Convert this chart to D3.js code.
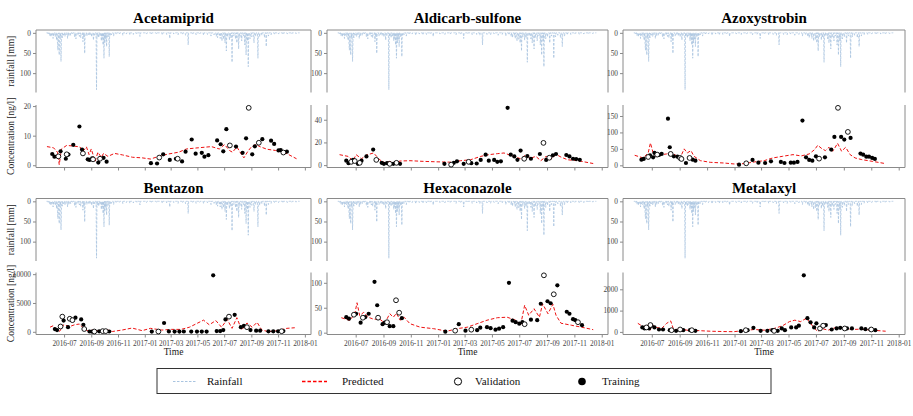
<!DOCTYPE html>
<html><head><meta charset="utf-8">
<script src="https://cdn.jsdelivr.net/npm/d3@7"></script>
<style>
body{margin:0;background:#fff}
svg{display:block}
text{font-family:"Liberation Serif","Times New Roman",serif}
</style>
</head><body>
<svg id="c" width="913" height="416"></svg>
<script>
const compounds = ["Acetamiprid","Aldicarb-sulfone","Azoxystrobin","Bentazon","Hexaconazole","Metalaxyl"];
const xTickLabels = ["2016-07","2016-09","2016-11","2017-01","2017-03","2017-05","2017-07","2017-09","2017-11","2018-01"];
const xDomainDates = ["2016-04-28","2018-01-15"];
const rainTicks = [0,50,100];
const concTicks = [[0,10,20],[0,20,40],[0,50,100,150],[0,5000,10000],[0,50,100],[0,1000,2000]];
const legendLabels = ["Rainfall","Predicted","Validation","Training"];
const rainPeriod = ["2016-05-22","2017-12-20"];
const rainEvents = [
["2016-05-26",4],["2016-05-29",7],["2016-06-01",10],["2016-06-03",5],["2016-06-06",14],["2016-06-08",6],["2016-06-11",9],["2016-06-14",18],["2016-06-16",26],["2016-06-17",43],["2016-06-19",30],["2016-06-20",55],["2016-06-22",12],["2016-06-24",71],["2016-06-25",20],["2016-06-27",12],["2016-06-30",6],["2016-07-03",9],["2016-07-06",5],["2016-07-09",14],["2016-07-12",8],["2016-07-16",6],["2016-07-20",4],["2016-07-25",10],["2016-07-28",15],["2016-08-02",6],["2016-08-05",9],["2016-08-08",12],["2016-08-13",22],["2016-08-15",10],["2016-08-17",51],["2016-08-22",8],["2016-08-26",5],["2016-08-29",7],["2016-09-02",10],["2016-09-06",18],["2016-09-09",6],["2016-09-13",141],["2016-09-15",9],["2016-09-18",12],["2016-09-21",8],["2016-09-24",20],["2016-09-26",14],["2016-09-28",30],["2016-09-30",63],["2016-10-02",25],["2016-10-04",15],["2016-10-06",34],["2016-10-09",10],["2016-10-12",59],["2016-10-14",6],["2016-10-17",5],["2016-10-22",8],["2016-10-28",4],["2016-11-04",3],["2016-11-12",6],["2016-11-20",3],["2016-11-28",5],["2016-12-06",4],["2016-12-14",3],["2016-12-21",9],["2017-01-05",3],["2017-01-16",4],["2017-01-28",3],["2017-02-10",5],["2017-02-20",4],["2017-02-27",14],["2017-03-08",3],["2017-03-18",5],["2017-03-28",4],["2017-04-04",6],["2017-04-10",30],["2017-04-20",4],["2017-04-28",5],["2017-05-06",3],["2017-05-15",6],["2017-05-24",4],["2017-06-01",8],["2017-06-08",5],["2017-06-13",9],["2017-06-16",12],["2017-06-20",6],["2017-06-22",14],["2017-06-26",20],["2017-06-30",16],["2017-07-03",25],["2017-07-06",45],["2017-07-09",10],["2017-07-13",18],["2017-07-16",12],["2017-07-19",73],["2017-07-23",8],["2017-07-27",15],["2017-07-30",25],["2017-08-03",40],["2017-08-06",12],["2017-08-10",20],["2017-08-14",8],["2017-08-17",30],["2017-08-20",55],["2017-08-23",20],["2017-08-25",84],["2017-08-29",15],["2017-09-02",10],["2017-09-07",25],["2017-09-11",8],["2017-09-16",63],["2017-09-20",10],["2017-09-25",6],["2017-10-01",12],["2017-10-05",34],["2017-10-10",8],["2017-10-16",5],["2017-10-24",4],["2017-11-02",3],["2017-11-12",4],["2017-11-22",3],["2017-12-02",3],["2017-12-12",2]
];

// Acetamiprid
const acetTrain = [["2016-06-04",3.8],["2016-06-09",2.9],["2016-06-23",4.7],["2016-07-05",2.2],["2016-07-11",3.6],["2016-07-22",6.9],["2016-08-05",13.1],["2016-08-11",5.3],["2016-08-24",2.0],["2016-08-28",1.8],["2016-09-03",2.3],["2016-09-17",0.9],["2016-09-29",2.5],["2016-10-06",1.2],["2017-01-15",0.7],["2017-01-29",0.6],["2017-02-12",3.7],["2017-02-27",1.8],["2017-03-13",2.2],["2017-03-27",1.3],["2017-04-04",4.6],["2017-04-18",8.7],["2017-04-27",3.9],["2017-05-11",4.2],["2017-05-17",2.9],["2017-05-26",3.4],["2017-06-15",8.4],["2017-06-23",7.1],["2017-06-29",4.7],["2017-07-06",12.2],["2017-07-28",6.3],["2017-08-12",4.2],["2017-08-20",9.1],["2017-09-03",3.7],["2017-09-09",6.4],["2017-09-26",8.8],["2017-10-16",8.3],["2017-10-23",7.2],["2017-11-02",5.0],["2017-11-07",5.1],["2017-11-21",4.6]];
const acetVal = [["2016-06-18",3.0],["2016-07-07",3.7],["2016-08-13",4.0],["2016-09-05",2.0],["2016-09-21",2.2],["2017-02-03",2.6],["2017-03-17",2.2],["2017-07-14",6.7],["2017-08-26",19.4],["2017-09-18",7.6],["2017-11-13",4.3]];
const acetPred = [["2016-05-23",6.3],["2016-06-07",5.9],["2016-06-16",4.4],["2016-06-20",0.2],["2016-06-25",5.5],["2016-07-07",6.7],["2016-07-22",6.5],["2016-08-06",6.2],["2016-08-13",4.7],["2016-08-21",6.2],["2016-08-27",3.6],["2016-09-01",5.5],["2016-09-10",1.3],["2016-09-16",4.4],["2016-09-24",2.7],["2016-09-29",4.0],["2016-10-09",3.0],["2016-10-24",4.0],["2016-11-11",3.5],["2016-12-04",2.7],["2016-12-26",2.5],["2017-01-14",2.1],["2017-02-02",3.0],["2017-02-24",3.8],["2017-03-19",4.4],["2017-04-06",5.5],["2017-05-03",5.9],["2017-06-02",6.3],["2017-06-20",5.5],["2017-07-02",7.0],["2017-07-13",5.0],["2017-07-20",4.4],["2017-07-30",6.2],["2017-08-08",4.0],["2017-08-15",2.5],["2017-08-24",4.7],["2017-09-01",6.2],["2017-09-11",7.0],["2017-09-22",6.2],["2017-10-07",5.4],["2017-10-26",5.0],["2017-11-10",4.7],["2017-11-25",3.6],["2017-12-13",2.2]];

// Aldicarb-sulfone
const aldiTrain = [["2016-06-10",3.9],["2016-06-15",1.7],["2016-06-25",4.6],["2016-07-06",1.1],["2016-07-14",3.9],["2016-07-25",7.7],["2016-08-09",13.7],["2016-08-28",2.0],["2016-09-02",1.1],["2016-09-09",1.7],["2016-09-23",1.1],["2016-10-08",1.1],["2017-01-15",1.1],["2017-02-05",2.0],["2017-02-12",3.3],["2017-02-27",1.1],["2017-03-16",1.7],["2017-03-28",1.4],["2017-04-06",4.6],["2017-04-17",9.2],["2017-04-24",3.9],["2017-05-06",4.6],["2017-05-13",2.9],["2017-05-21",3.3],["2017-06-05",50.5],["2017-06-12",9.2],["2017-06-20",7.7],["2017-06-27",4.7],["2017-07-04",12.8],["2017-07-19",8.0],["2017-07-27",5.6],["2017-08-16",9.8],["2017-08-30",4.6],["2017-09-14",8.6],["2017-09-21",9.8],["2017-10-14",8.9],["2017-10-21",7.7],["2017-10-29",5.6],["2017-11-05",5.3],["2017-11-13",4.7]];
const aldiVal = [["2016-06-21",2.9],["2016-06-29",3.6],["2016-07-10",2.0],["2016-08-16",4.6],["2016-09-15",1.1],["2016-09-30",2.0],["2017-01-30",0.4],["2017-03-10",2.9],["2017-07-12",5.6],["2017-08-24",19.6],["2017-09-06",6.5]];
const aldiPred = [["2016-05-26",9.2],["2016-06-14",7.7],["2016-06-25",3.9],["2016-07-02",9.2],["2016-07-14",5.6],["2016-07-25",8.9],["2016-08-10",10.7],["2016-08-24",4.6],["2016-09-04",2.0],["2016-09-15",3.3],["2016-09-27",2.0],["2016-10-08",3.6],["2016-10-30",3.9],["2016-11-29",3.3],["2016-12-29",2.9],["2017-01-28",2.6],["2017-02-20",3.9],["2017-03-14",4.7],["2017-04-06",7.7],["2017-04-24",9.2],["2017-05-13",10.1],["2017-05-28",10.7],["2017-06-12",8.6],["2017-06-23",7.1],["2017-07-04",5.6],["2017-07-15",8.9],["2017-07-27",6.2],["2017-08-07",7.7],["2017-08-18",3.9],["2017-08-30",7.7],["2017-09-10",5.3],["2017-09-21",9.5],["2017-10-02",7.1],["2017-10-17",4.7],["2017-11-09",3.9],["2017-12-13",1.4]];

// Azoxystrobin
const azoxTrain = [["2016-06-08",17.3],["2016-06-13",19.3],["2016-06-27",30.5],["2016-07-04",24.4],["2016-07-07",37.6],["2016-07-17",31.5],["2016-07-23",34.6],["2016-08-06",142],["2016-08-10",54.9],["2016-08-19",27.4],["2016-08-27",26.4],["2016-09-15",7.1],["2016-09-30",17.3],["2016-10-06",14.2],["2017-01-11",2],["2017-02-10",16.3],["2017-02-23",8.1],["2017-03-10",7.1],["2017-03-23",12.2],["2017-04-14",10.2],["2017-04-22",7.1],["2017-05-06",8.1],["2017-05-13",8.1],["2017-05-21",10.2],["2017-06-01",136],["2017-06-09",24.4],["2017-06-16",16.3],["2017-06-23",14.2],["2017-07-01",27.4],["2017-07-21",24.4],["2017-08-04",47.8],["2017-08-11",86.4],["2017-08-26",86.4],["2017-09-02",78.2],["2017-09-16",83.3],["2017-10-08",35.6],["2017-10-14",32.5],["2017-10-21",26.4],["2017-10-27",26.4],["2017-11-03",22.4],["2017-11-09",19.3]];
const azoxVal = [["2016-06-23",25.4],["2016-07-13",32.5],["2016-08-12",34.6],["2016-09-02",22.4],["2016-09-05",19.3],["2016-09-23",22.4],["2017-01-27",6.1],["2017-07-08",20.3],["2017-08-19",174.8],["2017-09-10",101.6]];
const azoxPred = [["2016-05-24",30.5],["2016-06-12",22.4],["2016-06-23",37.6],["2016-06-28",68],["2016-07-04",37.6],["2016-07-11",26.4],["2016-07-23",32.5],["2016-08-03",34.6],["2016-08-14",39.6],["2016-08-24",29.5],["2016-09-02",22.4],["2016-09-11",50],["2016-09-18",37.6],["2016-09-26",44.7],["2016-10-03",27.4],["2016-10-17",14.2],["2016-11-08",9.1],["2016-12-08",7.1],["2016-12-31",4.1],["2017-01-22",5.1],["2017-02-14",10.2],["2017-03-08",14.2],["2017-03-27",22.4],["2017-04-18",27.4],["2017-05-11",32.5],["2017-05-29",28.5],["2017-06-16",34.6],["2017-06-28",47.8],["2017-07-05",61],["2017-07-14",50.8],["2017-07-22",44.7],["2017-07-30",54.9],["2017-08-07",42.7],["2017-08-12",52.8],["2017-08-18",67],["2017-08-27",42.7],["2017-09-05",54.9],["2017-09-15",32.5],["2017-09-26",22.4],["2017-10-11",17.3],["2017-11-03",12.2],["2017-12-03",5.1]];

// Bentazon
const bentTrain = [["2016-06-10",480],["2016-06-15",300],["2016-06-30",1950],["2016-07-10",800],["2016-07-27",2450],["2016-08-09",2140],["2016-08-14",1220],["2016-08-28",50],["2016-09-03",20],["2016-09-19",80],["2016-10-12",50],["2017-01-17",40],["2017-02-14",1530],["2017-02-25",60],["2017-03-10",30],["2017-03-21",40],["2017-03-31",50],["2017-04-17",40],["2017-04-30",30],["2017-05-11",30],["2017-05-22",30],["2017-06-06",9800],["2017-06-14",120],["2017-06-22",120],["2017-06-29",300],["2017-07-04",2140],["2017-07-25",2940],["2017-08-08",800],["2017-08-15",1040],["2017-08-30",300],["2017-09-12",200],["2017-09-21",200],["2017-10-10",80],["2017-10-21",80],["2017-11-01",80],["2017-11-13",120]];
const bentVal = [["2016-06-23",919],["2016-06-27",2630],["2016-07-14",2260],["2016-07-20",2020],["2016-08-16",484],["2016-09-08",50],["2016-09-27",116],["2016-10-04",116],["2017-02-01",50],["2017-07-12",2630],["2017-08-22",800],["2017-11-09",100]];
const bentPred = [["2016-05-30",800],["2016-06-06",1040],["2016-06-15",300],["2016-06-21",100],["2016-06-30",1220],["2016-07-14",919],["2016-07-25",1220],["2016-08-05",1350],["2016-08-16",484],["2016-08-26",100],["2016-09-04",300],["2016-09-19",116],["2016-10-04",420],["2016-10-19",50],["2016-11-10",300],["2016-12-03",650],["2016-12-26",200],["2017-01-14",600],["2017-02-09",300],["2017-03-03",420],["2017-03-25",420],["2017-04-13",800],["2017-05-02",1530],["2017-05-15",2020],["2017-05-28",1220],["2017-06-12",1950],["2017-06-25",800],["2017-07-08",2140],["2017-07-19",600],["2017-07-30",2450],["2017-08-10",300],["2017-08-22",1530],["2017-09-03",800],["2017-09-14",1650],["2017-09-25",300],["2017-10-10",30],["2017-10-29",200],["2017-11-21",600],["2017-12-09",700]];

// Hexaconazole
const hexaTrain = [["2016-06-10",31],["2016-06-16",28],["2016-07-02",38],["2016-07-12",20],["2016-07-22",31],["2016-07-30",38],["2016-08-12",102],["2016-08-18",55],["2016-08-30",17],["2016-09-04",20],["2016-09-15",13],["2016-09-23",13],["2016-10-12",29],["2017-01-17",2],["2017-02-16",17],["2017-03-03",4],["2017-03-29",5],["2017-04-05",10],["2017-04-20",11],["2017-04-28",9],["2017-05-09",6],["2017-05-17",8],["2017-05-26",11],["2017-06-08",100],["2017-06-16",24],["2017-06-23",21],["2017-07-01",18],["2017-07-08",21],["2017-07-27",26],["2017-08-10",25],["2017-08-18",58],["2017-09-02",63],["2017-09-09",59],["2017-09-24",95],["2017-10-15",42],["2017-10-21",38],["2017-10-29",27],["2017-11-03",25],["2017-11-18",15]];
const hexaVal = [["2016-06-27",36],["2016-07-17",30],["2016-08-20",30],["2016-09-09",21],["2016-09-29",65],["2016-10-06",40],["2017-02-08",4],["2017-03-16",6],["2017-07-13",17],["2017-08-25",115],["2017-09-16",77],["2017-11-09",21]];
const hexaPred = [["2016-05-30",30],["2016-06-18",24.6],["2016-06-29",38],["2016-07-04",60],["2016-07-10",34],["2016-07-19",41],["2016-07-29",31],["2016-08-10",27],["2016-08-24",27],["2016-09-04",19],["2016-09-15",38],["2016-09-23",31],["2016-09-30",39],["2016-10-08",25],["2016-10-17",31],["2016-10-30",18],["2016-11-22",11],["2016-12-22",8],["2017-01-21",3],["2017-02-12",8],["2017-03-07",11],["2017-03-29",18],["2017-04-20",25],["2017-05-13",30],["2017-06-04",31],["2017-06-23",25],["2017-07-04",15],["2017-07-13",55],["2017-07-22",35],["2017-08-03",48],["2017-08-15",31],["2017-08-22",58],["2017-09-03",38],["2017-09-14",57],["2017-09-21",35],["2017-10-02",19],["2017-10-25",15],["2017-11-17",11],["2017-12-13",6]];

// Metalaxyl
const metaTrain = [["2016-06-10",210],["2016-06-15",161],["2016-06-25",161],["2016-06-30",290],["2016-07-07",210],["2016-07-17",113],["2016-07-26",113],["2016-08-10",80],["2016-08-24",48],["2016-09-09",80],["2016-09-24",80],["2016-10-06",48],["2017-01-15",32],["2017-01-30",80],["2017-02-12",193],["2017-02-28",48],["2017-03-15",48],["2017-03-26",80],["2017-04-07",48],["2017-04-16",161],["2017-04-23",80],["2017-05-07",210],["2017-05-18",210],["2017-05-24",290],["2017-06-04",2657],["2017-06-12",644],["2017-06-19",450],["2017-06-27",210],["2017-07-02",402],["2017-07-23",322],["2017-08-05",113],["2017-08-16",161],["2017-08-24",193],["2017-09-08",161],["2017-09-19",161],["2017-10-10",161],["2017-10-19",129],["2017-10-30",113],["2017-11-10",80]];
const metaVal = [["2016-06-19",210],["2016-06-28",322],["2016-08-14",80],["2016-09-02",113],["2016-09-28",80],["2017-01-26",80],["2017-03-30",48],["2017-07-10",161],["2017-07-17",290],["2017-09-03",161],["2017-11-01",113]];
const metaPred = [["2016-05-31",402],["2016-06-12",242],["2016-06-23",322],["2016-06-27",80],["2016-07-02",322],["2016-07-11",210],["2016-07-23",161],["2016-08-03",402],["2016-08-12",515],["2016-08-19",80],["2016-09-02",161],["2016-09-17",80],["2016-10-09",64],["2016-11-08",32],["2016-12-08",16],["2016-12-31",10],["2017-01-22",64],["2017-02-14",113],["2017-03-08",80],["2017-03-30",161],["2017-04-18",290],["2017-05-03",483],["2017-05-15",550],["2017-05-28",483],["2017-06-10",644],["2017-06-19",402],["2017-06-28",161],["2017-07-05",20],["2017-07-14",161],["2017-07-28",80],["2017-08-12",193],["2017-08-27",210],["2017-09-15",113],["2017-10-11",129],["2017-11-03",80],["2017-12-03",32]];

const trainSets = [acetTrain, aldiTrain, azoxTrain, bentTrain, hexaTrain, metaTrain];
const valSets = [acetVal, aldiVal, azoxVal, bentVal, hexaVal, metaVal];
const predSets = [acetPred, aldiPred, azoxPred, bentPred, hexaPred, metaPred];

// ---------- drawing ----------
const FONT = "'Liberation Serif','Times New Roman',serif";
const parse = d3.timeParse("%Y-%m-%d");
const fmtDay = d3.timeFormat("%Y-%m-%d");
const parseMonth = d3.timeParse("%Y-%m");
const svg = d3.select("#c");

const cols = [{l:36, r:311},{l:327, r:608},{l:623, r:905}];
const rows = [
  {title:23, rt:30, rb:92.5, ct:105, cb:167.5, labels:false},
  {title:193, rt:198.5, rb:261, ct:272.5, cb:334.5, labels:true}
];
const axisCol = "#8a8a8a", tickText = "#444";
const rainCol = "#a9c4e0", predCol = "#ee1111";

const rainMap = new Map(rainEvents.map(d => [d[0], d[1]]));
const days = d3.timeDay.range(parse(rainPeriod[0]), d3.timeDay.offset(parse(rainPeriod[1]), 1));
const rainSeries = days.map(d => ({date:d, mm: rainMap.has(fmtDay(d)) ? rainMap.get(fmtDay(d)) : 0}));
const rainMax = d3.max(rainEvents, d => d[1]);
const xTicks = xTickLabels.map(parseMonth);

compounds.forEach((name, i) => {
  const c = cols[i % 3], r = rows[Math.floor(i / 3)];
  const g = svg.append("g");
  const x = d3.scaleTime().domain(xDomainDates.map(parse)).range([c.l, c.r]);
  const yR = d3.scaleLinear().domain([-0.05 * rainMax, rainMax * 1.05]).range([r.rt, r.rb]);
  const all = [...trainSets[i], ...valSets[i], ...predSets[i]].map(d => d[1]);
  const [mn, mx] = d3.extent(all);
  const pad = (mx - mn) * 0.05;
  const yC = d3.scaleLinear().domain([mn - pad, mx + pad]).range([r.cb, r.ct]);

  // title
  g.append("text").attr("x", (c.l + c.r) / 2).attr("y", r.title)
    .attr("text-anchor", "middle").attr("font-weight", "bold").attr("font-size", 15)
    .attr("font-family", FONT).attr("fill", "#000").text(name);

  // rainfall
  g.append("path").datum(rainSeries)
    .attr("d", d3.line().x(d => x(d.date)).y(d => yR(d.mm)))
    .attr("fill", "none").attr("stroke", rainCol).attr("stroke-width", 0.8)
    .attr("stroke-dasharray", "2.5,1.5");

  // frames
  const line = (x1, y1, x2, y2) => g.append("line").attr("x1", x1).attr("y1", y1).attr("x2", x2).attr("y2", y2)
    .attr("stroke", axisCol).attr("stroke-width", 1);
  line(c.l, r.rt, c.l, r.rb); line(c.l, r.rt, c.r, r.rt); line(c.r, r.rt, c.r, r.rb);
  line(c.l, r.ct, c.l, r.cb); line(c.l, r.cb, c.r, r.cb); line(c.r, r.ct, c.r, r.cb);

  // axes
  const styleAxis = sel => {
    sel.attr("font-family", FONT);
    sel.select(".domain").remove();
    sel.selectAll(".tick line").attr("stroke", axisCol);
    sel.selectAll(".tick text").attr("fill", tickText).attr("font-size", 7.3).attr("font-family", FONT);
  };
  g.append("g").attr("transform", `translate(${c.l},0)`)
    .call(d3.axisLeft(yR).tickValues(rainTicks).tickSize(3).tickPadding(2).tickFormat(d3.format("d")))
    .call(styleAxis);
  g.append("g").attr("transform", `translate(${c.l},0)`)
    .call(d3.axisLeft(yC).tickValues(concTicks[i]).tickSize(3).tickPadding(2).tickFormat(d3.format("d")))
    .call(styleAxis);
  const xa = d3.axisBottom(x).tickValues(xTicks).tickSize(3).tickPadding(3).tickFormat(d3.timeFormat("%Y-%m"));
  if (!r.labels) xa.tickFormat(() => "");
  g.append("g").attr("transform", `translate(0,${r.cb})`).call(xa).call(styleAxis);

  // axis titles
  if (i % 3 === 0) {
    g.append("text").attr("transform", `translate(14,${(r.rt + r.rb) / 2}) rotate(-90)`)
      .attr("text-anchor", "middle").attr("font-size", 9.5).attr("font-family", FONT).attr("fill", "#222").text("rainfall [mm]");
    g.append("text").attr("transform", `translate(14,${(r.ct + r.cb) / 2}) rotate(-90)`)
      .attr("text-anchor", "middle").attr("font-size", 9.5).attr("font-family", FONT).attr("fill", "#222").text("Concentration [ng/l]");
  }
  if (r.labels) {
    g.append("text").attr("x", (c.l + c.r) / 2).attr("y", 355)
      .attr("text-anchor", "middle").attr("font-size", 9.5).attr("font-family", FONT).attr("fill", "#222").text("Time");
  }

  // predicted
  g.append("path").datum(predSets[i])
    .attr("d", d3.line().x(d => x(parse(d[0]))).y(d => yC(d[1])))
    .attr("fill", "none").attr("stroke", predCol).attr("stroke-width", 1)
    .attr("stroke-dasharray", "3.5,2");

  // points
  g.selectAll(".tr").data(trainSets[i]).join("circle")
    .attr("cx", d => x(parse(d[0]))).attr("cy", d => yC(d[1])).attr("r", 2.1).attr("fill", "#000");
  g.selectAll(".va").data(valSets[i]).join("circle")
    .attr("cx", d => x(parse(d[0]))).attr("cy", d => yC(d[1])).attr("r", 2.4)
    .attr("fill", "#fff").attr("stroke", "#000").attr("stroke-width", 0.9);
});

// legend
const lg = svg.append("g");
lg.append("rect").attr("x", 157).attr("y", 368.5).attr("width", 614).attr("height", 25)
  .attr("fill", "#fff").attr("stroke", "#333").attr("stroke-width", 1);
const ly = 381.5;
lg.append("line").attr("x1", 173).attr("x2", 197).attr("y1", ly).attr("y2", ly)
  .attr("stroke", rainCol).attr("stroke-width", 1).attr("stroke-dasharray", "2.5,1.5");
lg.append("line").attr("x1", 302).attr("x2", 327).attr("y1", ly).attr("y2", ly)
  .attr("stroke", "#ff0000").attr("stroke-width", 1.4).attr("stroke-dasharray", "3.5,2");
lg.append("circle").attr("cx", 458).attr("cy", ly).attr("r", 3.6).attr("fill", "#fff").attr("stroke", "#000").attr("stroke-width", 1);
lg.append("circle").attr("cx", 582).attr("cy", ly).attr("r", 3.8).attr("fill", "#000");
const lx = [207, 342, 475, 602];
legendLabels.forEach((t, k) => {
  lg.append("text").attr("x", lx[k]).attr("y", ly + 3.8).attr("font-size", 11).attr("font-family", FONT)
    .attr("fill", "#111").text(t);
});
</script>
</body></html>
